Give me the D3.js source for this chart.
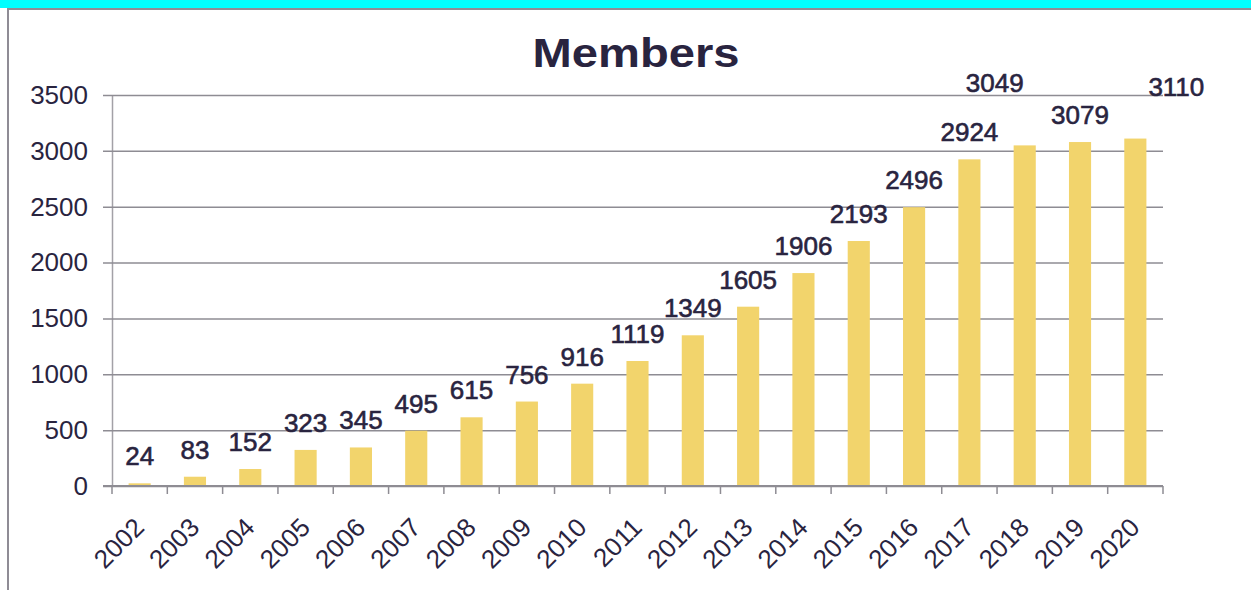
<!DOCTYPE html>
<html>
<head>
<meta charset="utf-8">
<script src="https://cdn.jsdelivr.net/npm/d3@7"></script>
<style>
    html, body { margin: 0; padding: 0; background: #fff; }
    svg { display: block; font-family: "Liberation Sans", Arial, Helvetica, sans-serif; }
</style>
</head>
<body>
<svg id="chart"></svg>
<script>
// chart data
const years = ["2002", "2003", "2004", "2005", "2006", "2007", "2008", "2009", "2010", "2011",
    "2012", "2013", "2014", "2015", "2016", "2017", "2018", "2019", "2020"];
const members = [24, 83, 152, 323, 345, 495, 615, 756, 916, 1119,
    1349, 1605, 1906, 2193, 2496, 2924, 3049, 3079, 3110];
const yTicks = [0, 500, 1000, 1500, 2000, 2500, 3000, 3500];
const title = "Members";

// labels that were dragged away from their bars in the original
const movedLabels = { "2018": [-30, -35], "2020": [41, -25] };

const width = 1251, height = 590;
const margin = { top: 95, right: 88, bottom: 104, left: 112 };
const ink = "#29243f";
const gridColor = "#8e8c93";
const fontSize = "26px";

const svg = d3.select("#chart")
    .attr("width", width)
    .attr("height", height);

// frame: cyan strip on top, gray border
svg.append("rect").attr("x", 0).attr("y", 0).attr("width", width).attr("height", 8).attr("fill", "#00ffff");
svg.append("line").attr("x1", 7).attr("x2", width).attr("y1", 9).attr("y2", 9)
    .attr("stroke", "#8f8c95").attr("stroke-width", 2);
svg.append("line").attr("x1", 8).attr("x2", 8).attr("y1", 8).attr("y2", height)
    .attr("stroke", "#8f8c95").attr("stroke-width", 2);

// scales
const x = d3.scaleBand()
    .domain(years)
    .range([margin.left, width - margin.right])
    .paddingInner(0.6)
    .paddingOuter(0.3);

const y = d3.scaleLinear()
    .domain([0, 3500])
    .range([height - margin.bottom, margin.top]);

// horizontal gridlines + y axis
const yAxis = d3.axisLeft(y)
    .tickValues(yTicks)
    .tickSize(-(width - margin.right - margin.left))
    .tickSizeOuter(0)
    .tickPadding(24)
    .tickFormat(d3.format("d"));

const gy = svg.append("g")
    .attr("transform", `translate(${margin.left},0)`)
    .call(yAxis);
gy.select(".domain").attr("stroke", "#a3a1a7").attr("stroke-width", 1.5);
gy.selectAll(".tick line")
    .attr("x1", -9)
    .attr("stroke", gridColor)
    .attr("stroke-width", 1.5);
gy.selectAll(".tick text")
    .attr("x", -24)
    .attr("fill", ink)
    .style("font-size", fontSize);

// bars
svg.append("g")
    .selectAll("rect")
    .data(members)
    .join("rect")
    .attr("x", (d, i) => x(years[i]))
    .attr("y", d => y(d))
    .attr("width", x.bandwidth())
    .attr("height", d => y(0) - y(d))
    .attr("fill", "#f2d46c");

// x axis with boundary ticks
const step = x.step();
const boundaries = d3.range(years.length + 1).map(i => margin.left + i * step);
const gx = svg.append("g");
gx.append("line")
    .attr("x1", margin.left - 9).attr("x2", width - margin.right)
    .attr("y1", y(0)).attr("y2", y(0))
    .attr("stroke", gridColor).attr("stroke-width", 2);
gx.selectAll("line.tk")
    .data(boundaries)
    .join("line")
    .attr("class", "tk")
    .attr("x1", d => d).attr("x2", d => d)
    .attr("y1", y(0)).attr("y2", y(0) + 8)
    .attr("stroke", gridColor).attr("stroke-width", 1.5);
gx.selectAll("text")
    .data(years)
    .join("text")
    .attr("transform", d => `translate(${x(d) + x.bandwidth() / 2 + 6},${y(0) + 43}) rotate(-45)`)
    .attr("text-anchor", "end")
    .attr("fill", ink)
    .style("font-size", fontSize)
    .text(d => d);

// value labels
svg.append("g")
    .selectAll("text")
    .data(members)
    .join("text")
    .attr("x", (d, i) => x(years[i]) + x.bandwidth() / 2 + (movedLabels[years[i]] ? movedLabels[years[i]][0] : 0))
    .attr("y", (d, i) => y(d) - 18 + (movedLabels[years[i]] ? movedLabels[years[i]][1] : 0))
    .attr("text-anchor", "middle")
    .attr("fill", ink)
    .attr("stroke", ink)
    .attr("stroke-width", 0.6)
    .style("font-size", fontSize)
    .text(d => d);

// title
svg.append("text")
    .attr("x", 636)
    .attr("y", 67)
    .attr("text-anchor", "middle")
    .attr("fill", ink)
    .attr("textLength", 207)
    .attr("lengthAdjust", "spacingAndGlyphs")
    .style("font-size", "40px")
    .style("font-weight", "bold")
    .text(title);
</script>
</body>
</html>
